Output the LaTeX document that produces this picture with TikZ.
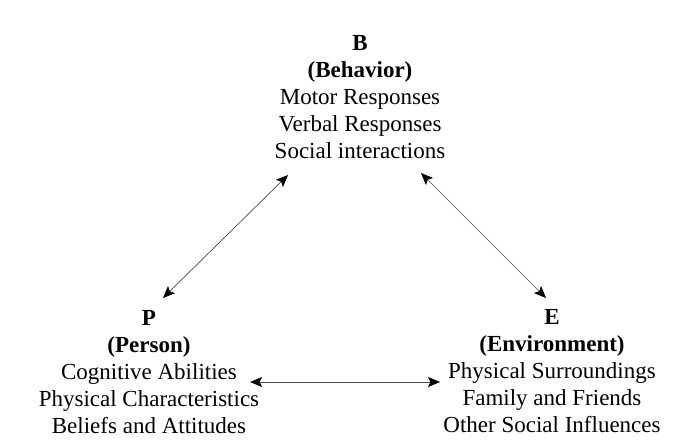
\documentclass[tikz,border=0pt]{standalone}
\usepackage{fontspec}
\setmainfont{Liberation Serif}
\usetikzlibrary{arrows.meta}
\begin{document}
\begin{tikzpicture}[x=1pt,y=-1pt,
              >={Stealth[length=12pt,width=10pt,inset=2.5pt,color=black]},
              blk/.style={align=center,inner sep=0,anchor=base,
                          font=\fontsize{23}{27}\selectfont},
              link/.style={black!70,line width=0.7pt,<->}]
              \useasboundingbox (0,0) rectangle (677,445);
              \node[blk] (b) at (360,158) {\textbf{B}\\ \textbf{(Behavior)}\\ Motor Responses\\ Verbal Responses\\ Social interactions};
              \node[blk] (p) at (149,433) {\textbf{P}\\ \textbf{(Person)}\\ Cognitive Abilities\\ Physical Characteristics\\ Beliefs and Attitudes};
              \node[blk] (e) at (552,432) {\textbf{E}\\ \textbf{(Environment)}\\ Physical Surroundings\\ Family and Friends\\ Other Social Influences};
              % arrow ends
              \coordinate (bp) at (288,175);
              \coordinate (pb) at (163,298);
              \coordinate (be) at (421,173);
              \coordinate (eb) at (546,298);
              \coordinate (pe) at (250,382);
              \coordinate (ep) at (440,382);
              \draw[link] (bp)--(pb);
              \draw[link] (be)--(eb);
              \draw[link] (pe)--(ep);
            \end{tikzpicture}
\end{document}
